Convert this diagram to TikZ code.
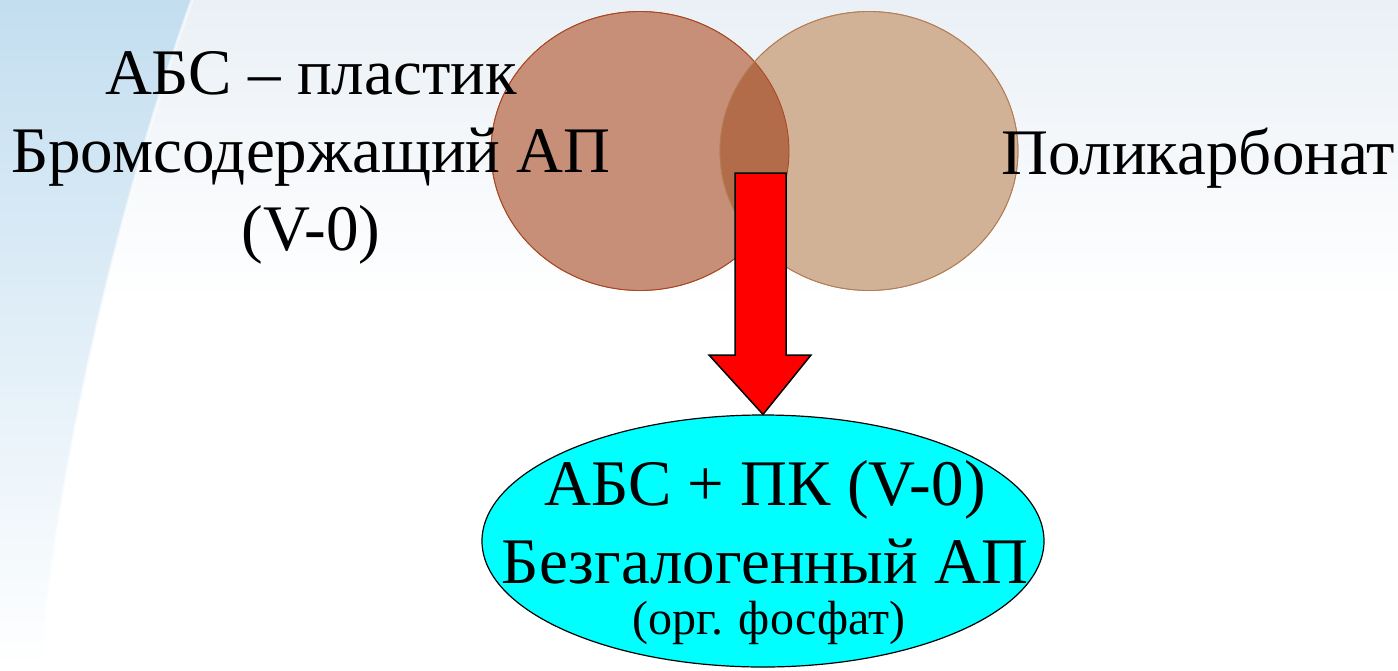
\documentclass[tikz,border=0pt]{standalone}
\usepackage{fontspec}
\setmainfont{Liberation Serif}
\usetikzlibrary{shapes.geometric}
\definecolor{lcirc}{RGB}{200,143,120}
\definecolor{lborder}{RGB}{170,70,30}
\definecolor{rcirc}{RGB}{210,178,150}
\definecolor{rborder}{RGB}{180,125,85}
\definecolor{overlap}{RGB}{178,108,74}
\definecolor{bgblue}{RGB}{195,222,240}
\definecolor{bggray}{RGB}{234,240,246}
\definecolor{aqua}{RGB}{0,255,255}
\tikzset{
  bigtext/.style={font=\fontsize{65}{78}\selectfont, align=center, inner sep=0pt},
  smalltext/.style={font=\fontsize{48}{60}\selectfont, inner sep=0pt},
  venn/.style={ellipse, minimum width=298pt, minimum height=279pt, inner sep=0pt, line width=0.8pt},
  blockarrow/.style={fill=red, draw=black, line width=1.5pt, line join=miter},
}
\begin{document}
\begin{tikzpicture}[x=1pt,y=-1pt]
% background
\useasboundingbox (0,0) rectangle (1398,670);
\fill[white] (0,0) rectangle (1398,670);
\shade[top color=bggray, bottom color=white] (0,0) rectangle (1398,300);
\shade[top color=bgblue, bottom color=white]
  (0,0) -- (192,0) .. controls (120,200) and (60,450) .. (40,670) -- (0,670) -- cycle;
\draw[white, line width=3pt, opacity=0.6] (192,0) .. controls (120,200) and (60,450) .. (40,670);
% circles
\node[venn, fill=lcirc, draw=lborder] (L) at (640,151) {};
\node[venn, fill=rcirc, draw=rborder] (R) at (869,151) {};
\begin{scope}
  \clip (640,151) ellipse [x radius=149pt, y radius=139.5pt];
  \fill[overlap] (869,151) ellipse [x radius=149pt, y radius=139.5pt];
\end{scope}
\draw[lborder, line width=0.8pt] (640,151) ellipse [x radius=149pt, y radius=139.5pt];
\draw[rborder, line width=0.8pt] (869,151) ellipse [x radius=149pt, y radius=139.5pt];
% result ellipse
\node[ellipse, fill=aqua, draw=black, line width=1.2pt, minimum width=562pt, minimum height=252pt, inner sep=0pt] (E) at (763,541) {};
% block arrow
\coordinate (tip) at (E.north);
\draw[blockarrow] (735,173) -- (786,173) -- (786,355) -- (811,355) -- (tip) -- (709,355) -- (735,355) -- cycle;
% texts
\node[bigtext] (abs) at (311,158) {АБС – пластик\\Бромсодержащий АП\\(V-0)};
\node[bigtext] (pc) at (1198,158) {Поликарбонат};
\node[bigtext] (res) at (765,522) {АБС + ПК (V-0)\\Безгалогенный АП};
\node[smalltext] (org) at (769,623) {(орг. фосфат)};
\end{tikzpicture}
\end{document}
